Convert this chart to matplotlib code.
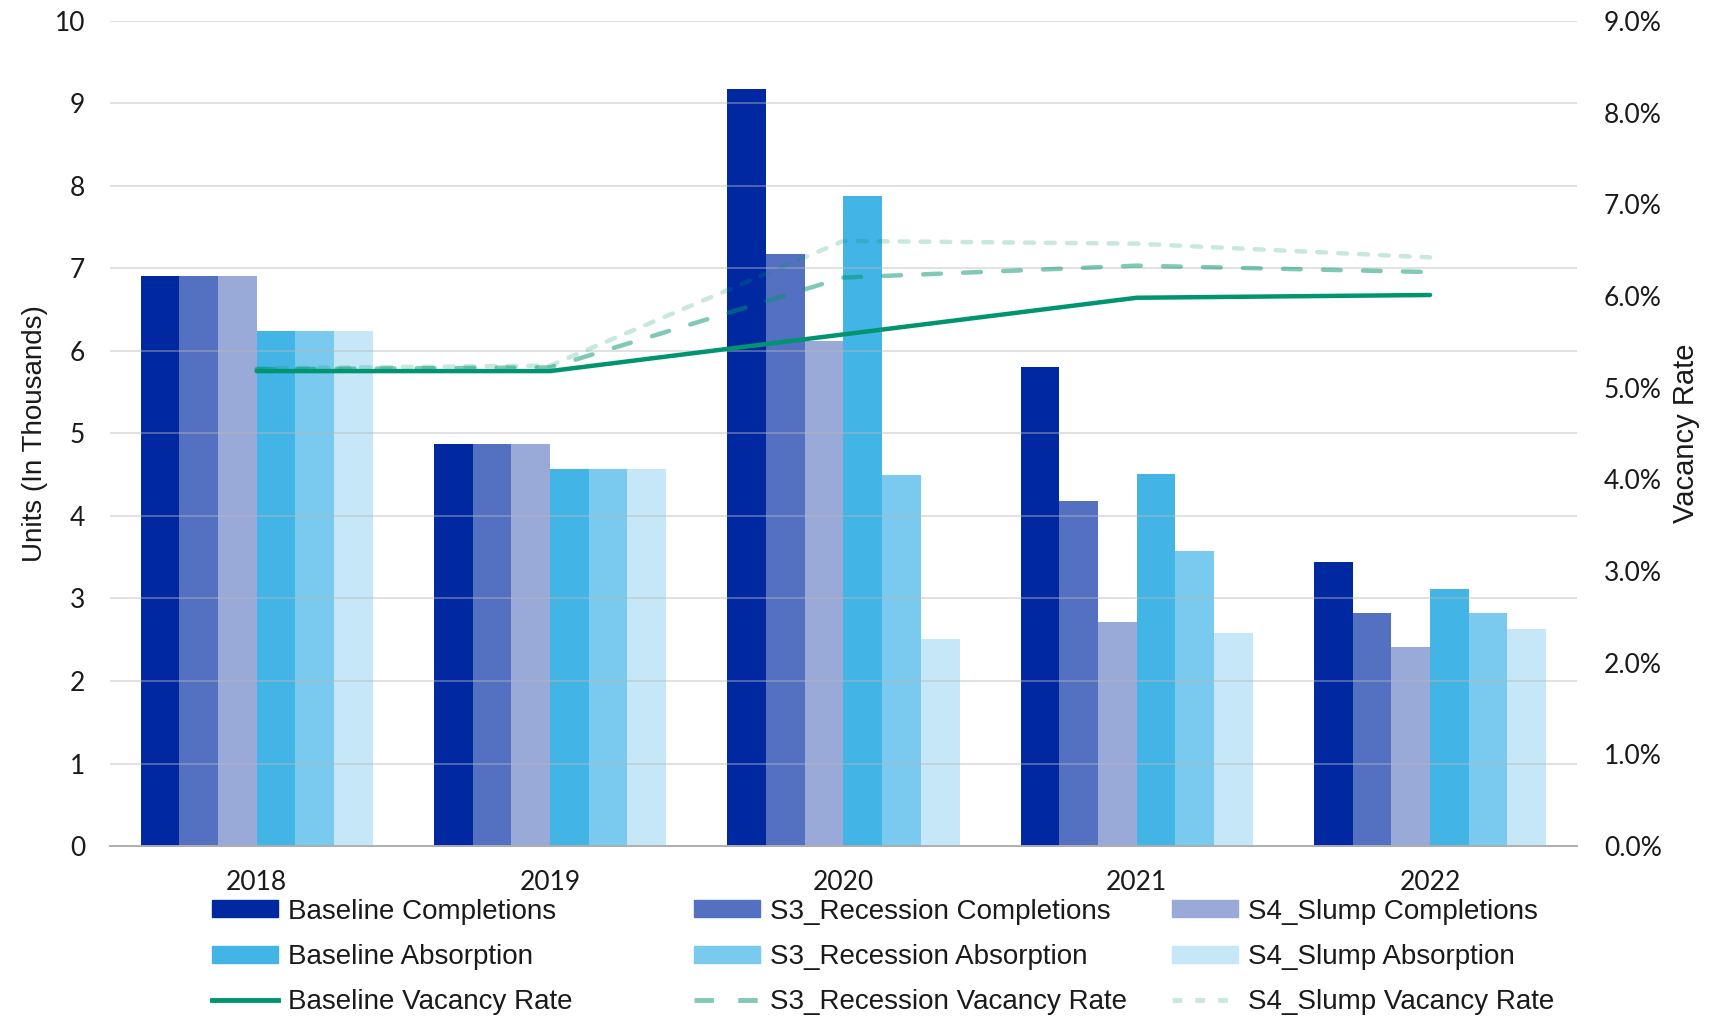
"""Completions / absorption bars with vacancy-rate lines on a twin axis, 2018-2022 scenarios."""

import matplotlib
import numpy as np

matplotlib.use("Agg")
import matplotlib.pyplot as plt  # noqa: E402
from matplotlib.lines import Line2D  # noqa: E402
from matplotlib.patches import Patch  # noqa: E402
from matplotlib.ticker import FuncFormatter  # noqa: E402

plt.rcParams["font.family"] = ["Liberation Sans", "DejaVu Sans"]

YEARS = ["2018", "2019", "2020", "2021", "2022"]

# units, thousands
BASELINE_COMPLETIONS = [6.91, 4.87, 9.18, 5.80, 3.44]
S3_COMPLETIONS = [6.91, 4.87, 7.18, 4.18, 2.82]
S4_COMPLETIONS = [6.91, 4.87, 6.12, 2.71, 2.41]
BASELINE_ABSORPTION = [6.24, 4.57, 7.88, 4.51, 3.11]
S3_ABSORPTION = [6.24, 4.57, 4.50, 3.57, 2.82]
S4_ABSORPTION = [6.24, 4.57, 2.51, 2.58, 2.63]

# vacancy rate, percent
BASELINE_VACANCY = [5.18, 5.18, 5.58, 5.98, 6.01]
S3_VACANCY = [5.20, 5.22, 6.20, 6.33, 6.26]
S4_VACANCY = [5.21, 5.24, 6.60, 6.57, 6.42]

BAR_SERIES = [
    ("Baseline Completions", BASELINE_COMPLETIONS, "#0029A1"),
    ("S3_Recession Completions", S3_COMPLETIONS, "#5470C1"),
    ("S4_Slump Completions", S4_COMPLETIONS, "#99AAD9"),
    ("Baseline Absorption", BASELINE_ABSORPTION, "#42B4E5"),
    ("S3_Recession Absorption", S3_ABSORPTION, "#79CAEE"),
    ("S4_Slump Absorption", S4_ABSORPTION, "#C5E7F7"),
]
# same green, scenarios drawn see-through so they read lighter
LINE_SERIES = [
    ("Baseline Vacancy Rate", BASELINE_VACANCY, 1.0, "-"),
    ("S3_Recession Vacancy Rate", S3_VACANCY, 0.5, (0, (4, 5))),
    ("S4_Slump Vacancy Rate", S4_VACANCY, 0.22, (0, (2, 2.7))),
]
LINE_COLOR = "#00956F"

FS = 20
TICK_FS = 19
TEXT = "#1a1a1a"
TICK_FONT = ["Lato", "DejaVu Sans"]


def main() -> None:
    fig = plt.figure(figsize=(17.19, 10.17), dpi=100)
    ax = fig.add_axes([0.064, 0.1681, 0.8532, 0.8114])
    x = np.arange(len(YEARS))
    n = len(BAR_SERIES)
    width = 0.132

    for i, (label, vals, color) in enumerate(BAR_SERIES):
        ax.bar(x + (i - (n - 1) / 2) * width, vals, width, color=color, lw=0, zorder=1)

    ax.set_xlim(-0.5, len(YEARS) - 0.5)
    ax.set_ylim(0, 10)
    ax.set_yticks(np.arange(0, 11, 1))
    ax.set_xticks(x)
    ax.set_xticklabels(YEARS)
    ax.grid(axis="y", color="#b8b8b8", alpha=0.5, lw=1.2, zorder=2)
    ax.set_axisbelow(False)
    ax.tick_params(axis="both", length=0, labelsize=TICK_FS, colors=TEXT)
    ax.tick_params(axis="x", pad=17)
    ax.tick_params(axis="y", pad=18)
    for t in ax.get_xticklabels() + ax.get_yticklabels():
        t.set_family(TICK_FONT)
    for side in ("top", "left", "right"):
        ax.spines[side].set_visible(False)
    ax.spines["bottom"].set_color("#a6a6a6")
    ax.spines["bottom"].set_linewidth(1.3)
    ax.set_ylabel("Units (In Thousands)", fontsize=FS, color=TEXT)
    ax.yaxis.set_label_coords(-0.042, 0.5)

    ax2 = ax.twinx()
    for label, vals, alpha, ls in LINE_SERIES:
        ax2.plot(x, vals, color=LINE_COLOR, alpha=alpha, lw=3.2, ls=ls,
                 solid_capstyle="round", dash_capstyle="round", zorder=3)
    ax2.set_ylim(0, 9)
    ax2.set_yticks(np.arange(0, 10, 1))
    ax2.yaxis.set_major_formatter(FuncFormatter(lambda v, _: f"{v:.1f}%"))
    ax2.tick_params(axis="y", length=0, labelsize=TICK_FS, colors=TEXT, pad=19.5)
    for t in ax2.get_yticklabels():
        t.set_family(TICK_FONT)
    for side in ("top", "left", "right", "bottom"):
        ax2.spines[side].set_visible(False)
    ax2.set_ylabel("Vacancy Rate", fontsize=FS + 1, color=TEXT, rotation=90)
    ax2.yaxis.set_label_coords(1.065, 0.5)

    # legend: three fixed-position columns, one per scenario
    bar_handles = [Patch(color=c) for _, _, c in BAR_SERIES]
    line_handles = [Line2D([], [], color=LINE_COLOR, alpha=a, lw=3.5, ls=ls)
                    for _, _, a, ls in LINE_SERIES]
    labels_bar = [lbl for lbl, _, _ in BAR_SERIES]
    labels_line = [lbl for lbl, _, _, _ in LINE_SERIES]
    col_x = [0.1231, 0.4037, 0.6818]
    for k, cx in enumerate(col_x):
        handles = [bar_handles[k], bar_handles[k + 3], line_handles[k]]
        labels = [labels_bar[k], labels_bar[k + 3], labels_line[k]]
        leg = fig.legend(
            handles, labels, loc="upper left", bbox_to_anchor=(cx, 0.1165),
            frameon=False, fontsize=FS, borderpad=0, borderaxespad=0,
            handlelength=2.38, handleheight=0.55, handletextpad=0.36, labelspacing=0.70,
        )
        for t in leg.get_texts():
            t.set_color(TEXT)

    fig.savefig("out.png", dpi=100)
    plt.close(fig)


if __name__ == "__main__":
    main()
